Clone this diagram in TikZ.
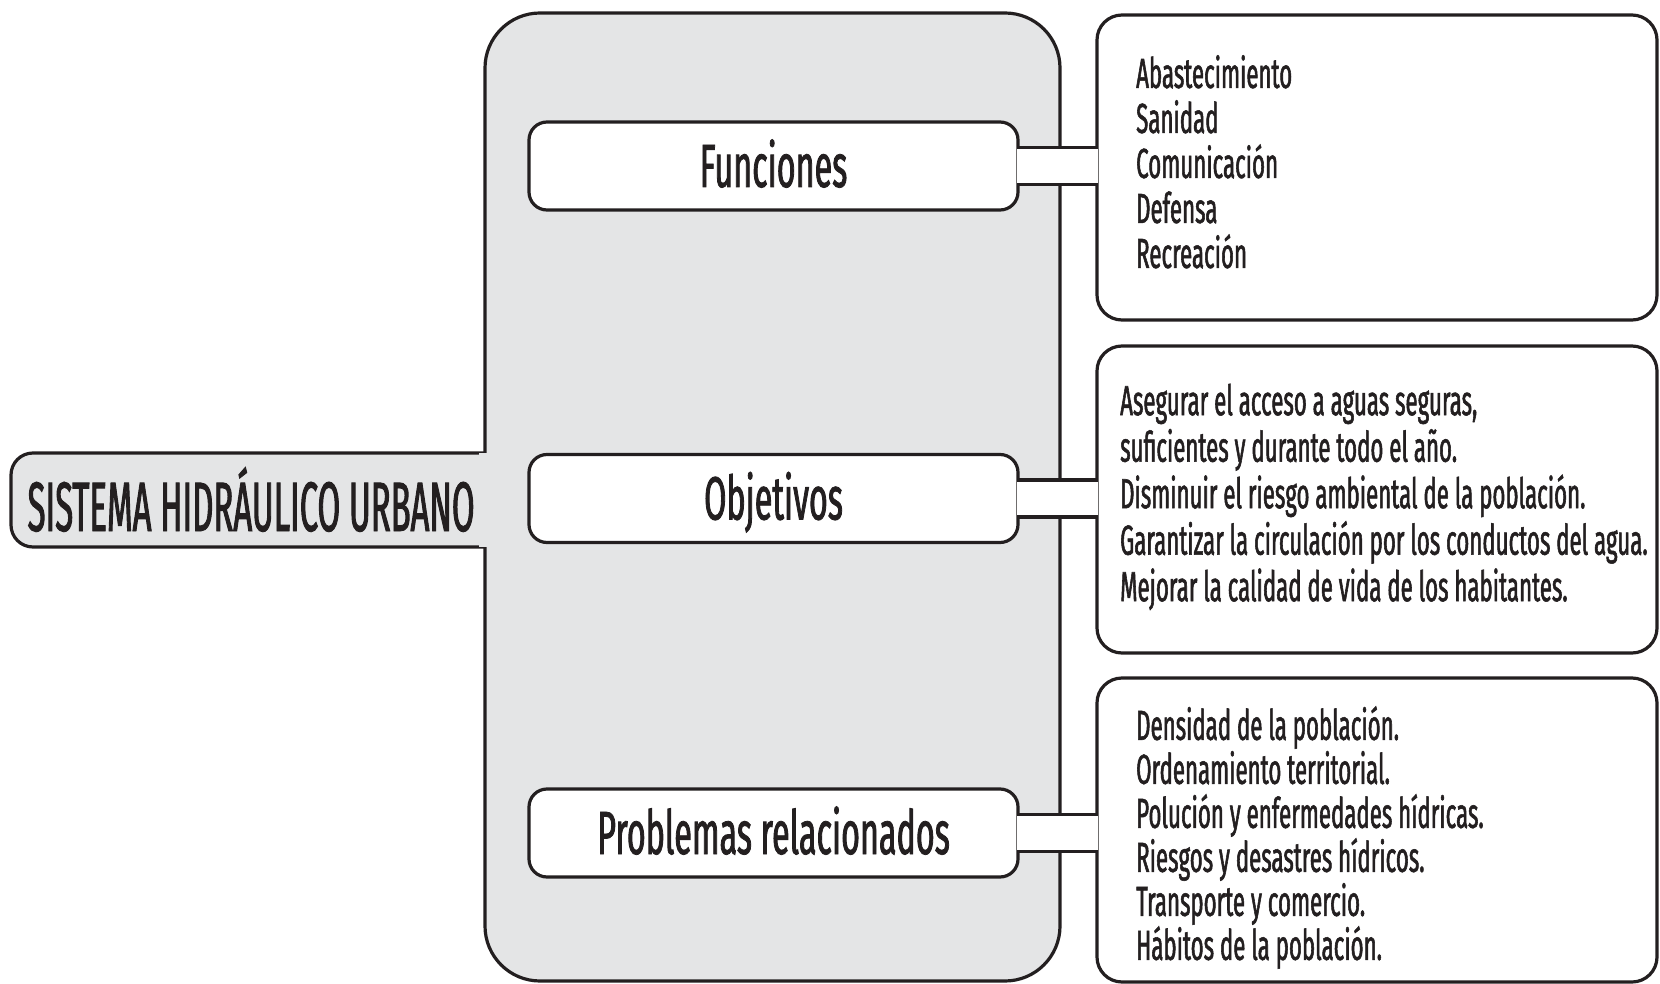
\documentclass[tikz,border=0pt]{standalone}
\usepackage{fontspec}
\usetikzlibrary{calc}
\newfontfamily\boxfont[FakeStretch=0.53,FakeBold=1.3]{Fira Sans}
\newfontfamily\titlefont[FakeStretch=0.47,FakeBold=1.3]{Fira Sans}
\definecolor{ink}{HTML}{231F20}
\definecolor{panelgray}{HTML}{E4E5E6}

% white channel joining a label box to its list box, through the panel wall
\newcommand{\drawpipe}[2]{%
  \fill[white] ($(#1.east)+(-3,-16.9)$) rectangle ($(#2.west |- #1.east)+(3,16.9)$);
  \draw[frame] ($(#1.east)+(-1.6,-18.5)$) -- ($(#2.west |- #1.east)+(1.6,-18.5)$);
  \draw[frame] ($(#1.east)+(-1.6,18.5)$) -- ($(#2.west |- #1.east)+(1.6,18.5)$);
}

\begin{document}
\begin{tikzpicture}[x=1pt,y=-1pt,
  frame/.style={draw=ink,line width=3.2pt},
  panelbox/.style={frame,fill=panelgray,rounded corners=55pt,minimum width=575pt,minimum height=968pt,inner sep=0pt},
  sysbox/.style={frame,fill=panelgray,rounded corners=22pt,minimum width=509pt,minimum height=94pt,inner sep=0pt},
  centerbox/.style={frame,fill=white,rounded corners=18pt,minimum width=489pt,minimum height=88pt,inner sep=0pt,
    text=ink,font=\boxfont\fontsize{61}{61}\selectfont,text height=42pt,text depth=0pt},
  listbox/.style={frame,fill=white,rounded corners=25pt,minimum width=560pt,inner sep=0pt},
  listtext/.style={anchor=north west,inner sep=0pt,align=left,text=ink},
  titletext/.style={anchor=west,inner sep=0pt,text=ink,font=\titlefont\fontsize{70}{70}\selectfont,
    text height=48pt,text depth=0pt}
]
\useasboundingbox (0,0) rectangle (1660,984);

% main system tab and the grey panel it opens into
\node[sysbox] (sys) at (265.5,500) {};
\node[panelbox] (panel) at (772.5,497) {};
\fill[panelgray] ($(panel.west |- sys.north)+(-4,1.7)$) rectangle ($(panel.west |- sys.south)+(5,-1.7)$);

% list boxes on the right
\node[listbox,minimum height=305pt] (fl) at (1377,167.5) {};
\node[listbox,minimum height=307pt] (ol) at (1377,499.5) {};
\node[listbox,minimum height=304pt] (pl) at (1377,830) {};

% label boxes inside the panel
\node[centerbox] (fun) at (773.5,166) {Funciones};
\node[centerbox] (obj) at (773.5,498.5) {Objetivos};
\node[centerbox] (prob) at (773.5,833) {Problemas relacionados};

% channels
\drawpipe{fun}{fl}
\drawpipe{obj}{ol}
\drawpipe{prob}{pl}

% texts
\node[titletext] (systitle) at ($(sys.west)+(18,7)$) {SISTEMA HIDRÁULICO URBANO};

\node[listtext,font=\boxfont\fontsize{42}{45}\selectfont] (fltext) at (1136,55)
  {\rule{0pt}{32pt}Abastecimiento\\Sanidad\\Comunicación\\Defensa\\Recreación};
\node[listtext,font=\boxfont\fontsize{42}{46.5}\selectfont] (oltext) at (1120,383)
  {\rule{0pt}{32pt}Asegurar el acceso a aguas seguras,\\suficientes y durante todo el año.\\Disminuir el riesgo ambiental de la población.\\Garantizar la circulación por los conductos del agua.\\Mejorar la calidad de vida de los habitantes.};
\node[listtext,font=\boxfont\fontsize{42}{44}\selectfont] (pltext) at (1136,706)
  {\rule{0pt}{32pt}Densidad de la población.\\Ordenamiento territorial.\\Polución y enfermedades hídricas.\\Riesgos y desastres hídricos.\\Transporte y comercio.\\Hábitos de la población.};
\end{tikzpicture}
\end{document}
